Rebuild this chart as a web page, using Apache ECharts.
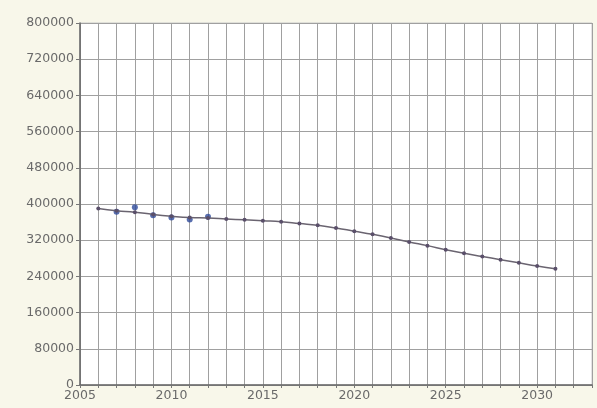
<!DOCTYPE html>
<html><head><meta charset="utf-8">
<script src="https://cdn.jsdelivr.net/npm/echarts@6/dist/echarts.min.js"></script>
<style>html,body{margin:0;padding:0;background:#f8f7ea;}#c{width:597px;height:408px;}</style>
</head><body><div id="c"></div>
<script>
const years = [2006,2007,2008,2009,2010,2011,2012,2013,2014,2015,2016,2017,2018,2019,2020,2021,2022,2023,2024,2025,2026,2027,2028,2029,2030,2031];
const projection = [390000,385000,382000,377000,373000,370000,369000,367000,365000,363000,361000,357000,353000,347000,340000,333000,325000,316000,308000,299000,291000,284000,277000,270000,263000,257000];
const obsYears = [2007,2008,2009,2010,2011,2012];
const observed = [383000,393000,375000,370000,366000,372000];

const chart = echarts.init(document.getElementById('c'));
chart.setOption({
  backgroundColor: '#f8f7ea',
  animation: false,
  grid: {left: 80, right: 5, top: 23, bottom: 23, show: true, backgroundColor: '#ffffff', borderColor: '#c8c8c8', borderWidth: 1},
  xAxis: {
    type: 'value', min: 2005, max: 2033, interval: 1,
    axisLine: {show: true, lineStyle: {color: '#666', width: 1.5}},
    axisTick: {show: true, length: 3, lineStyle: {color: '#777'}},
    axisLabel: {color: '#6a6a6a', fontSize: 12.5, fontFamily: 'DejaVu Sans, sans-serif', margin: 4,
      formatter: v => (v % 5 === 0 && v <= 2030) ? String(v) : ''},
    splitLine: {show: true, lineStyle: {color: '#a0a0a0', width: 1}}
  },
  yAxis: {
    type: 'value', min: 0, max: 800000, interval: 80000,
    axisLine: {show: true, lineStyle: {color: '#666', width: 1.5}},
    axisTick: {show: true, length: 4, lineStyle: {color: '#777'}},
    axisLabel: {color: '#6a6a6a', fontSize: 12.5, fontFamily: 'DejaVu Sans, sans-serif', margin: 6,
      formatter: v => String(v)},
    splitLine: {show: true, lineStyle: {color: '#a0a0a0', width: 1}}
  },
  series: [
    {type: 'line', data: years.map((y,i)=>[y, projection[i]]), smooth: true,
     symbol: 'circle', symbolSize: 4, itemStyle: {color: '#5a4f6a'},
     lineStyle: {color: '#6a6470', width: 1.5}},
    {type: 'scatter', data: obsYears.map((y,i)=>[y, observed[i]]), symbol: 'circle', symbolSize: 6,
     itemStyle: {color: '#2e4a9a'}}
  ]
});
</script></body></html>
